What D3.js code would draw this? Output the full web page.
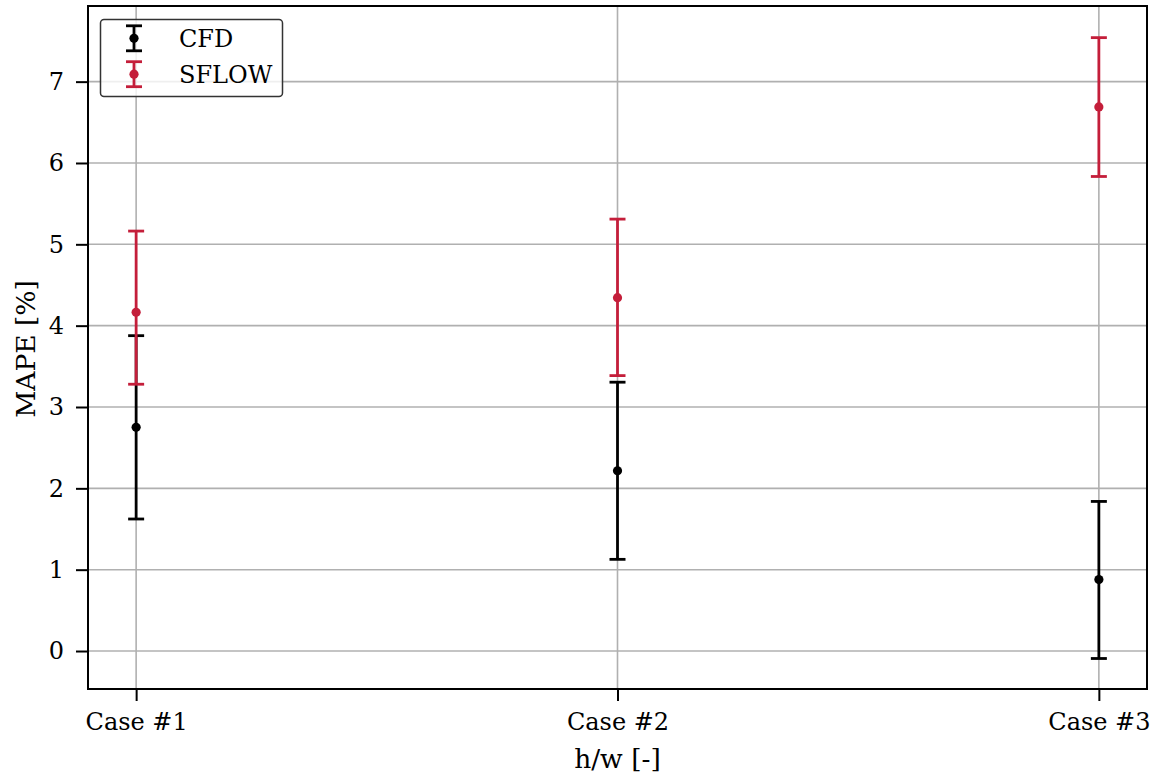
<!DOCTYPE html>
<html>
<head>
<meta charset="utf-8">
<script src="https://cdn.jsdelivr.net/npm/d3@7"></script>
<style>
  body { margin: 0; background: #fff; }
  svg { display: block; font-family: "DejaVu Serif", serif; }
</style>
</head>
<body>
<svg id="chart" width="1156" height="776"></svg>
<script>
// Categories and MAPE statistics per model
const cases = ["Case #1", "Case #2", "Case #3"];
const yTicks = [0, 1, 2, 3, 4, 5, 6, 7];

const cfdMean  = [2.75, 2.216, 0.878];
const cfdLow   = [1.623, 1.127, -0.092];
const cfdHigh  = [3.877, 3.305, 1.839];

const sflowMean = [4.165, 4.344, 6.689];
const sflowLow  = [3.28, 3.386, 5.834];
const sflowHigh = [5.163, 5.31, 7.541];

const series = [
  { name: "CFD",   color: "#000000", mean: cfdMean,   low: cfdLow,   high: cfdHigh },
  { name: "SFLOW", color: "#c41e3a", mean: sflowMean, low: sflowLow, high: sflowHigh }
];

const svg = d3.select("#chart");
const margin = { left: 88, right: 9, top: 6, bottom: 87 };
const W = 1156, H = 776;
const plotW = W - margin.left - margin.right;
const plotH = H - margin.top - margin.bottom;

const x = d3.scaleLinear().domain([-0.1, 2.1]).range([margin.left, margin.left + plotW]);
const y = d3.scaleLinear().domain([-0.467, 7.93]).range([margin.top + plotH, margin.top]);

// grid
const grid = svg.append("g");
grid.selectAll("line.gy").data(yTicks).join("line")
  .attr("x1", margin.left).attr("x2", margin.left + plotW)
  .attr("y1", d => y(d)).attr("y2", d => y(d))
  .attr("stroke", "#b0b0b0").attr("stroke-width", 1.6);
grid.selectAll("line.gx").data(cases.map((c, i) => i)).join("line")
  .attr("y1", margin.top).attr("y2", margin.top + plotH)
  .attr("x1", d => x(d)).attr("x2", d => x(d))
  .attr("stroke", "#b0b0b0").attr("stroke-width", 1.6);

// axes
const xAxis = d3.axisBottom(x).tickValues([0, 1, 2]).tickFormat(i => cases[i])
  .tickSizeInner(12).tickSizeOuter(0).tickPadding(12);
const yAxis = d3.axisLeft(y).tickValues(yTicks).tickFormat(d3.format("d"))
  .tickSizeInner(12).tickSizeOuter(0).tickPadding(12);

const gx = svg.append("g").attr("transform", `translate(0,${margin.top + plotH})`).call(xAxis);
const gy = svg.append("g").attr("transform", `translate(${margin.left},0)`).call(yAxis);
[gx, gy].forEach(g => {
  g.select(".domain").remove();
  g.selectAll(".tick line").attr("stroke", "#000").attr("stroke-width", 2);
  g.selectAll(".tick text").attr("fill", "#000")
    .style("font-family", "DejaVu Serif").style("font-size", "24px");
});

// error bars
const capHalf = 8;
const lw = 2.8;
series.forEach(s => {
  const g = svg.append("g");
  const idx = s.mean.map((m, i) => i);
  g.selectAll("line.stem").data(idx).join("line")
    .attr("x1", i => x(i)).attr("x2", i => x(i))
    .attr("y1", i => y(s.low[i])).attr("y2", i => y(s.high[i]))
    .attr("stroke", s.color).attr("stroke-width", lw);
  ["low", "high"].forEach(k => {
    g.selectAll("line.cap-" + k).data(idx).join("line")
      .attr("x1", i => x(i) - capHalf).attr("x2", i => x(i) + capHalf)
      .attr("y1", i => y(s[k][i])).attr("y2", i => y(s[k][i]))
      .attr("stroke", s.color).attr("stroke-width", lw);
  });
  g.selectAll("circle").data(idx).join("circle")
    .attr("cx", i => x(i)).attr("cy", i => y(s.mean[i])).attr("r", 4.6)
    .attr("fill", s.color);
});

// frame
svg.append("rect")
  .attr("x", margin.left).attr("y", margin.top)
  .attr("width", plotW).attr("height", plotH)
  .attr("fill", "none").attr("stroke", "#000").attr("stroke-width", 2);

// axis titles
svg.append("text")
  .attr("x", margin.left + plotW / 2).attr("y", 768)
  .attr("text-anchor", "middle").style("font-size", "26.5px").text("h/w [-]");
svg.append("text")
  .attr("transform", `translate(35,349) rotate(-90)`)
  .attr("text-anchor", "middle").style("font-size", "26.5px").text("MAPE [%]");

// legend
const lg = svg.append("g");
lg.append("rect").attr("x", 100.5).attr("y", 19.5).attr("width", 182).attr("height", 77)
  .attr("rx", 3.5).attr("fill", "#fff").attr("fill-opacity", 0.8)
  .attr("stroke", "#333").attr("stroke-width", 1.5);
series.forEach((s, k) => {
  const cy = 38.3 + k * 35.9, cx = 134;
  lg.append("line").attr("x1", cx).attr("x2", cx).attr("y1", cy - 12.5).attr("y2", cy + 12.5)
    .attr("stroke", s.color).attr("stroke-width", lw);
  [-12.5, 12.5].forEach(dy => lg.append("line")
    .attr("x1", cx - capHalf).attr("x2", cx + capHalf).attr("y1", cy + dy).attr("y2", cy + dy)
    .attr("stroke", s.color).attr("stroke-width", lw));
  lg.append("circle").attr("cx", cx).attr("cy", cy).attr("r", 4.6).attr("fill", s.color);
  lg.append("text").attr("x", 179).attr("y", cy + 8.5).style("font-size", "24px").text(s.name);
});
</script>
</body>
</html>
